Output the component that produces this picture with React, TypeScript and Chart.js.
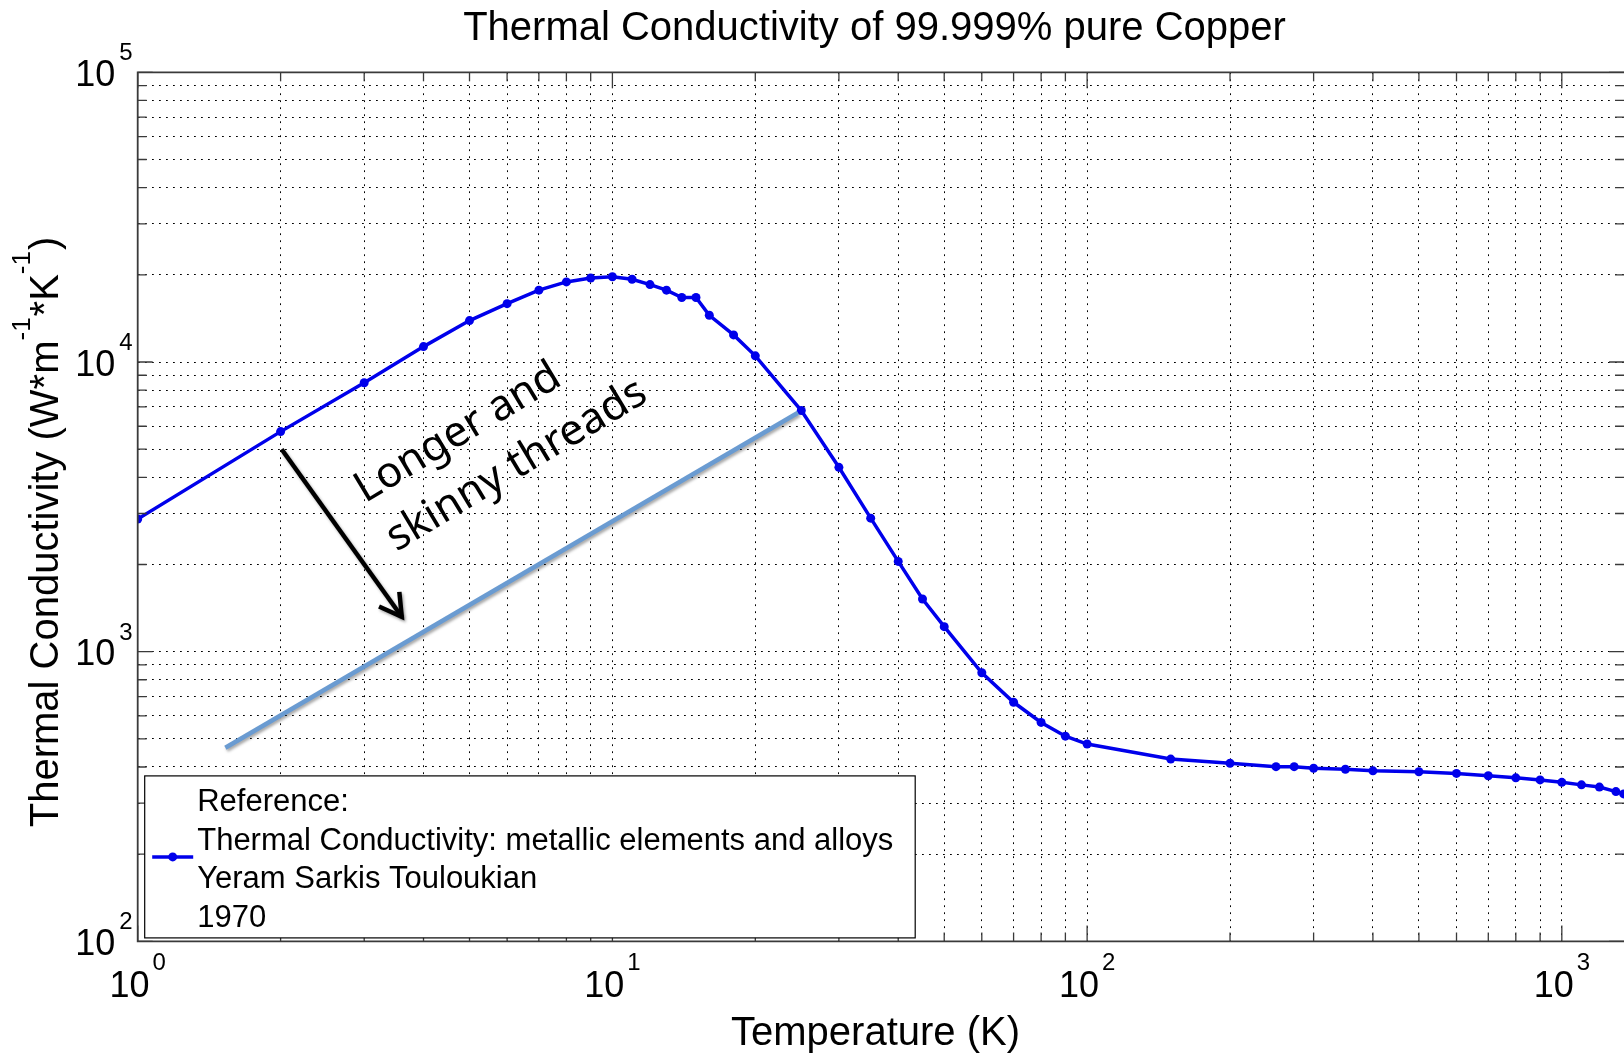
import React, { useEffect, useRef } from "react";
import { Chart, registerables } from "chart.js";

Chart.register(...registerables);

// ---------------- data ----------------
const temperatures = [
  1, 2, 3, 4, 5, 6, 7, 8, 9, 10, 11, 12, 13, 14, 15, 16, 18, 20, 25, 30, 35, 40, 45, 50, 60, 70, 80, 90, 100,
  150, 200, 250, 273, 300, 350, 400, 500, 600, 700, 800, 900, 1000, 1100, 1200, 1300, 1350,
];
const conductivity = [
  2870, 5750, 8480, 11300, 13900, 15900, 17700, 18900, 19500, 19700, 19300, 18500, 17700, 16700, 16700, 14500,
  12400, 10500, 6800, 4330, 2890, 2050, 1520, 1220, 846, 669, 570, 511, 480,
  426, 412, 401, 401, 396, 393, 388, 385, 380, 373, 367, 361, 354, 347, 341, 329, 323,
];
const xMajorExponents = [0, 1, 2, 3];
const yMajorExponents = [2, 3, 4, 5];
const xMin = 1;
const xMax = 1352;
const yMin = 100;
const yMax = 100000;

const chartTitle = "Thermal Conductivity of 99.999% pure Copper";
const xAxisTitle = "Temperature (K)";
const yAxisTitleParts: [string, boolean][] = [
  ["Thermal Conductivity (W*m", false],
  ["-1", true],
  ["*K", false],
  ["-1", true],
  [")", false],
];
const legendLines = [
  "Reference:",
  "Thermal Conductivity: metallic elements and alloys",
  "Yeram Sarkis Touloukian",
  "1970",
];
const annotationLines = ["Longer and", "skinny threads"];
const annotationAnchor = [3.01, 3250];
const arrowFrom = [2.01, 5000];
const arrowTo = [3.6, 1320];
const threadLineFrom = [1.53, 466];
const threadLineTo = [24.6, 6680];

// ---------------- styles ----------------
const curveColor = "rgb(0,0,235)";
const axisColor = "#3a3a3a";
const helv = "'Liberation Sans', Arial, sans-serif";

function decadeTicks(min: number, max: number) {
  const out: number[] = [];
  for (let e = Math.floor(Math.log10(min)); e <= Math.ceil(Math.log10(max)); e++) {
    for (let m = 1; m <= 9; m++) {
      const v = m * Math.pow(10, e);
      if (v >= min * 0.9999 && v <= max * 1.0001) out.push(v);
    }
  }
  return out;
}
const isMajor = (v: number) => Math.abs(Math.log10(v) - Math.round(Math.log10(v))) < 1e-9;

const xTickValues = decadeTicks(xMin, xMax);
const yTickValues = decadeTicks(yMin, yMax);

const decorPlugin = {
  id: "decor",
  afterDatasetsDraw(chart: any) {
    const { ctx, chartArea: a, scales } = chart;
    const xs = scales.x;
    const ys = scales.y;
    ctx.save();

    // inner tick marks
    ctx.strokeStyle = axisColor;
    ctx.lineWidth = 1.3;
    ctx.beginPath();
    for (const v of xTickValues) {
      const px = xs.getPixelForValue(v);
      const len = isMajor(v) ? 16 : 9;
      ctx.moveTo(px, a.bottom);
      ctx.lineTo(px, a.bottom - len);
      ctx.moveTo(px, a.top);
      ctx.lineTo(px, a.top + len);
    }
    for (const v of yTickValues) {
      const py = ys.getPixelForValue(v);
      const len = isMajor(v) ? 15 : 9;
      ctx.moveTo(a.left, py);
      ctx.lineTo(a.left + len, py);
      ctx.moveTo(a.right, py);
      ctx.lineTo(a.right - len, py);
    }
    ctx.stroke();

    // box
    ctx.lineWidth = 1.8;
    ctx.beginPath();
    ctx.moveTo(a.right + 5, a.top);
    ctx.lineTo(a.left, a.top);
    ctx.lineTo(a.left, a.bottom);
    ctx.lineTo(a.right + 5, a.bottom);
    ctx.stroke();

    // legend
    const lx = a.left + 7;
    const ly = a.bottom - 165.5;
    const lw = 770.5;
    const lh = 162;
    ctx.fillStyle = "#ffffff";
    ctx.fillRect(lx, ly, lw, lh);
    ctx.strokeStyle = "#000000";
    ctx.lineWidth = 1.2;
    ctx.strokeRect(lx, ly, lw, lh);
    const midY = ly + lh / 2;
    ctx.strokeStyle = curveColor;
    ctx.lineWidth = 3.5;
    ctx.beginPath();
    ctx.moveTo(lx + 7.5, midY);
    ctx.lineTo(lx + 48.5, midY);
    ctx.stroke();
    ctx.fillStyle = curveColor;
    ctx.beginPath();
    ctx.arc(lx + 28, midY, 4.5, 0, Math.PI * 2);
    ctx.fill();
    ctx.fillStyle = "#000000";
    ctx.font = `31px ${helv}`;
    ctx.textAlign = "left";
    ctx.textBaseline = "alphabetic";
    legendLines.forEach((t, i) => {
      ctx.fillText(t, lx + 52.5, ly + 35.5 + i * 38.5);
    });

    // annotation: light blue line
    ctx.save();
    ctx.shadowColor = "rgba(0,0,0,0.35)";
    ctx.shadowBlur = 3;
    ctx.shadowOffsetX = 1.5;
    ctx.shadowOffsetY = 2;
    ctx.strokeStyle = "#6a9bd1";
    ctx.lineWidth = 4.5;
    ctx.lineCap = "butt";
    ctx.beginPath();
    ctx.moveTo(xs.getPixelForValue(threadLineFrom[0]), ys.getPixelForValue(threadLineFrom[1]));
    ctx.lineTo(xs.getPixelForValue(threadLineTo[0]), ys.getPixelForValue(threadLineTo[1]));
    ctx.stroke();

    // annotation: arrow
    const ax0 = xs.getPixelForValue(arrowFrom[0]);
    const ay0 = ys.getPixelForValue(arrowFrom[1]);
    const ax1 = xs.getPixelForValue(arrowTo[0]);
    const ay1 = ys.getPixelForValue(arrowTo[1]);
    const ang = Math.atan2(ay1 - ay0, ax1 - ax0);
    ctx.strokeStyle = "#000000";
    ctx.lineWidth = 4.5;
    ctx.lineJoin = "miter";
    ctx.beginPath();
    ctx.moveTo(ax0, ay0);
    ctx.lineTo(ax1, ay1);
    ctx.stroke();
    const wing = 25;
    ctx.beginPath();
    ctx.moveTo(ax1 - wing * Math.cos(ang - Math.PI / 6), ay1 - wing * Math.sin(ang - Math.PI / 6));
    ctx.lineTo(ax1, ay1);
    ctx.lineTo(ax1 - wing * Math.cos(ang + Math.PI / 6), ay1 - wing * Math.sin(ang + Math.PI / 6));
    ctx.stroke();
    ctx.restore();

    // annotation text
    ctx.save();
    ctx.translate(xs.getPixelForValue(annotationAnchor[0]), ys.getPixelForValue(annotationAnchor[1]));
    ctx.rotate((-31 * Math.PI) / 180);
    ctx.fillStyle = "#000000";
    ctx.font = "43px 'Noto Sans', 'Open Sans', sans-serif";
    ctx.textAlign = "left";
    ctx.textBaseline = "alphabetic";
    annotationLines.forEach((t, i) => ctx.fillText(t, i * 2, i * 58));
    ctx.restore();

    ctx.restore();
  },
  afterDraw(chart: any) {
    const { ctx, chartArea: a, scales } = chart;
    const xs = scales.x;
    const ys = scales.y;
    ctx.save();
    ctx.fillStyle = "#000000";
    ctx.textBaseline = "alphabetic";
    const mainFont = `36px ${helv}`;
    const supFont = `24px ${helv}`;

    // y tick labels
    for (const e of yMajorExponents) {
      const py = ys.getPixelForValue(Math.pow(10, e));
      const supRight = a.left - 5;
      ctx.textAlign = "right";
      ctx.font = supFont;
      const sup = String(e);
      ctx.fillText(sup, supRight, py - 12);
      const w = ctx.measureText(sup).width;
      ctx.font = mainFont;
      ctx.fillText("10", supRight - w - 4, py + 13.5);
    }
    // x tick labels
    for (const e of xMajorExponents) {
      const px = xs.getPixelForValue(Math.pow(10, e));
      ctx.textAlign = "left";
      ctx.font = mainFont;
      const w1 = ctx.measureText("10").width;
      ctx.font = supFont;
      const sup = String(e);
      const w2 = ctx.measureText(sup).width;
      const gap = 3;
      const start = px - (w1 + gap + w2) / 2;
      ctx.font = mainFont;
      ctx.fillText("10", start, a.bottom + 56);
      ctx.font = supFont;
      ctx.fillText(sup, start + w1 + gap, a.bottom + 29);
    }

    // title
    ctx.font = `40px ${helv}`;
    ctx.textAlign = "center";
    ctx.fillText(chartTitle, 874.5, 40);

    // x title
    ctx.fillText(xAxisTitle, 875.5, a.bottom + 104);

    // y title (rotated)
    ctx.save();
    ctx.translate(57.5, 532);
    ctx.rotate(-Math.PI / 2);
    ctx.textAlign = "left";
    const partFont = (s: boolean) => (s ? `26px ${helv}` : `40px ${helv}`);
    let total = 0;
    for (const [t, s] of yAxisTitleParts) {
      ctx.font = partFont(s);
      total += ctx.measureText(t).width + (s ? 1 : 0);
    }
    let cx = -total / 2;
    for (const [t, s] of yAxisTitleParts) {
      ctx.font = partFont(s);
      ctx.fillText(t, cx, s ? -28 : 0);
      cx += ctx.measureText(t).width + (s ? 1 : 0);
    }
    ctx.restore();

    ctx.restore();
  },
};

export default function App() {
  const canvasRef = useRef<HTMLCanvasElement | null>(null);

  useEffect(() => {
    document.body.style.margin = "0";
    const canvas = canvasRef.current;
    if (!canvas) return;
    const data = temperatures.map((t, i) => ({ x: t, y: conductivity[i] }));
    const chart = new Chart(canvas, {
      type: "line",
      data: {
        datasets: [
          {
            label: "Touloukian 1970",
            data,
            borderColor: curveColor,
            backgroundColor: curveColor,
            borderWidth: 3.5,
            pointRadius: 4.5,
            pointHoverRadius: 4.5,
            pointBorderWidth: 0,
            pointBackgroundColor: curveColor,
            tension: 0,
            fill: false,
          },
        ],
      },
      options: {
        animation: false,
        responsive: false,
        events: [],
        layout: {
          autoPadding: false,
          padding: { left: 137.7, top: 72.3, right: 0, bottom: 112.6 },
        },
        plugins: {
          legend: { display: false },
          tooltip: { enabled: false },
          title: { display: false },
        },
        scales: {
          x: {
            type: "logarithmic",
            min: xMin,
            max: xMax,
            afterBuildTicks: (scale: any) => {
              scale.ticks = xTickValues.map((v) => ({ value: v }));
            },
            ticks: { display: false },
            grid: { color: "#000000", lineWidth: 1, drawTicks: false, drawOnChartArea: true },
            border: { display: false, dash: [1.8, 5.2] },
            title: { display: false },
          },
          y: {
            type: "logarithmic",
            min: yMin,
            max: yMax,
            afterBuildTicks: (scale: any) => {
              scale.ticks = yTickValues.map((v) => ({ value: v }));
            },
            ticks: { display: false },
            grid: { color: "#000000", lineWidth: 1, drawTicks: false, drawOnChartArea: true },
            border: { display: false, dash: [1.8, 5.2] },
            title: { display: false },
          },
        },
      },
      plugins: [decorPlugin],
    });
    return () => chart.destroy();
  }, []);

  return (
    <div style={{ width: 1624, height: 1054, overflow: "hidden", background: "#ffffff" }}>
      <canvas ref={canvasRef} width={1624} height={1054} style={{ display: "block" }} />
    </div>
  );
}
